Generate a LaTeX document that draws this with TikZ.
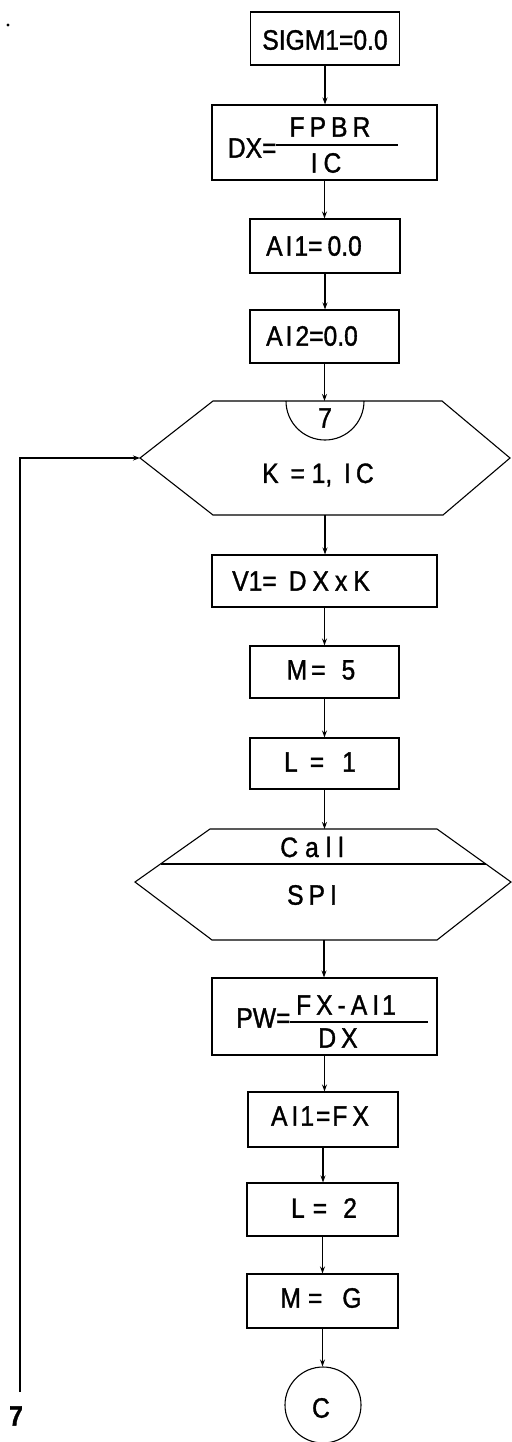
\documentclass[tikz,border=0pt]{standalone}
\usepackage{fontspec}
\setmainfont{Liberation Sans}[FakeStretch=0.88,FakeBold=1.2]
\usetikzlibrary{arrows.meta}
\newcommand\gp[1]{\hspace{#1pt}}
\begin{document}
\begin{tikzpicture}[x=1pt,y=-1pt,line width=1.1pt,
  box/.style={draw,rectangle,inner sep=0pt},
  lbl/.style={inner sep=0pt,font=\fontsize{28}{30}\selectfont},
  arr/.style={-{Stealth[length=7pt,width=5pt]}},
  conn/.style={draw,circle,inner sep=0pt,minimum size=76pt}]
\useasboundingbox (0,0) rectangle (511,1442);
\fill (8,25) circle[radius=1.6pt];
% boxes
\node[box,minimum width=149pt,minimum height=53pt] (b1) at (325,38.5) {};
\node[box,minimum width=225pt,minimum height=75pt] (b2) at (324.5,142.5) {};
\node[box,minimum width=150pt,minimum height=54pt] (b3) at (325,246) {};
\node[box,minimum width=149pt,minimum height=53pt] (b4) at (324.5,336.5) {};
\node[box,minimum width=225pt,minimum height=52pt] (b5) at (324.5,581) {};
\node[box,minimum width=149pt,minimum height=52pt] (b6) at (324.5,672) {};
\node[box,minimum width=149pt,minimum height=51pt] (b7) at (324.5,763.5) {};
\node[box,minimum width=225pt,minimum height=77pt] (b8) at (324.5,1016.5) {};
\node[box,minimum width=150pt,minimum height=55pt] (b9) at (323,1119.5) {};
\node[box,minimum width=151pt,minimum height=53pt] (b10) at (322.5,1209.5) {};
\node[box,minimum width=151pt,minimum height=54pt] (b11) at (322.5,1301) {};
\node[conn] (cc) at (323,1405) {};
% loop hexagon
\coordinate (h1T) at (325,401);
\coordinate (h1B) at (325,515);
\coordinate (h1L) at (140,458);
\draw (213,401) -- (442,401) -- (510,458) -- (443,515) -- (213,515) -- (h1L) -- cycle;
\draw (286,401) arc[start angle=180,end angle=360,radius=39pt];
% call hexagon
\coordinate (h2T) at (324,829);
\coordinate (h2B) at (324,940);
\draw (210,829) -- (437,829) -- (511,882) -- (437,940) -- (212,940) -- (135,882) -- cycle;
\draw (160.5,864) -- (486,864);
% texts
\node[lbl] (t1) at (325,40) {SIGM1=0.0};
\node[lbl,anchor=east] (t2a) at (277,148) {DX=};
\node[lbl] (t2b) at (330,127) {F\gp{5}P\gp{5}B\gp{5}R};
\node[lbl] (t2c) at (326,163) {I\gp{6}C};
\draw (276,145) -- (398,145);
\node[lbl] (t3) at (314,246) {A\gp{3}I\gp{2}1=\gp{5}0.0};
\node[lbl] (t4) at (312,336) {A\gp{3}I\gp{3}2=0.0};
\node[lbl] (t5) at (325,418) {7};
\node[lbl] (t6) at (318,475) {K\gp{5} = 1,\gp{5} I\gp{5}C};
\node[lbl] (t7) at (301,581) {V1=\gp{12}D\gp{6}X\gp{6}x\gp{6}K};
\node[lbl] (t8) at (321,670) {M\gp{4}=\gp{16}5};
\node[lbl] (t9) at (320,762) {L\gp{12}=\gp{18}1};
\node[lbl] (t10) at (312,847) {C\gp{7}a\gp{7}l\gp{7}l};
\node[lbl] (t11) at (312,895) {S\gp{5}P\gp{5}I};
\node[lbl,anchor=east] (t12a) at (291,1018) {PW=};
\node[lbl] (t12b) at (346,1005) {F\gp{5}X\gp{5}-\gp{5}A\gp{5}I\gp{3}1};
\node[lbl] (t12c) at (338,1038) {D\gp{5}X};
\draw (290,1022) -- (428,1022);
\node[lbl] (t13) at (320,1116) {A\gp{4}I\gp{2}1\gp{2}=\gp{2}F\gp{5}X};
\node[lbl] (t14) at (324,1208) {L\gp{8}=\gp{16}2};
\node[lbl] (t15) at (321,1298) {M\gp{7}=\gp{20}G};
\node[lbl] (t16) at (321,1408) {C};
\node[lbl,font=\fontsize{28}{30}\selectfont\bfseries] (t17) at (16,1416) {7};
% connectors
\draw[arr] (b1.south) -- (b1.south |- b2.north);
\draw[arr] (b2.south) -- (b2.south |- b3.north);
\draw[arr] (b3.south) -- (b3.south |- b4.north);
\draw[arr] (b4.south) -- (b4.south |- h1T);
\draw[arr] (h1B) -- (h1B |- b5.north);
\draw[arr] (b5.south) -- (b5.south |- b6.north);
\draw[arr] (b6.south) -- (b6.south |- b7.north);
\draw[arr] (b7.south) -- (b7.south |- h2T);
\draw[arr] (h2B) -- (h2B |- b8.north);
\draw[arr] (b8.south) -- (b8.south |- b9.north);
\draw[arr] (b9.south) -- (b9.south |- b10.north);
\draw[arr] (b10.south) -- (b10.south |- b11.north);
\draw[arr] (b11.south) -- (b11.south |- cc.north);
\coordinate (loopend) at (20,1392);
\draw[arr] (loopend) |- (h1L);
\end{tikzpicture}
\end{document}
